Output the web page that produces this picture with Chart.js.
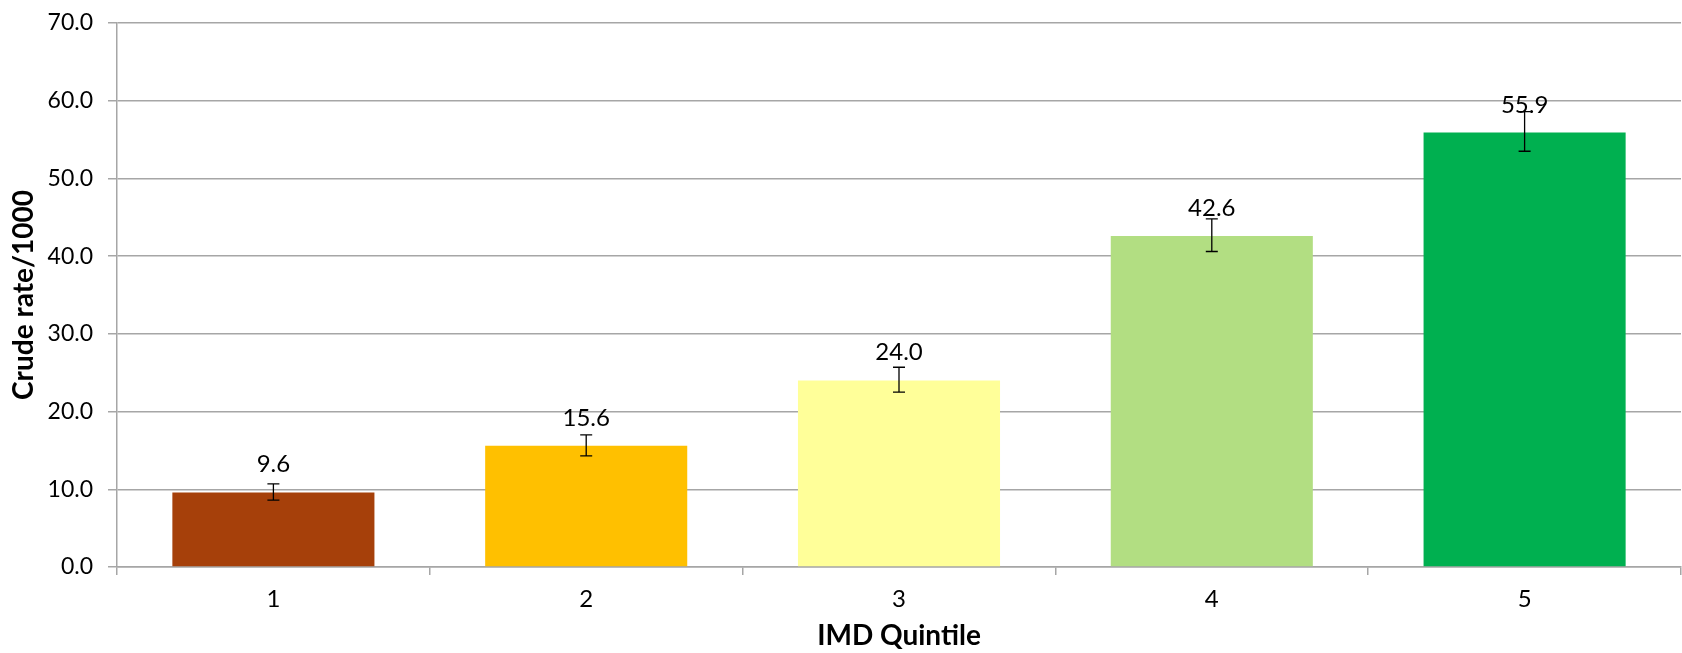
<!DOCTYPE html>
<html>
<head>
<meta charset="utf-8">
<script src="https://cdn.jsdelivr.net/npm/chart.js@4"></script>
<style>
  html, body { margin: 0; padding: 0; background: #fff; }
  #wrap { width: 1682px; height: 653px; }
</style>
</head>
<body>
<div id="wrap"><canvas id="chart" width="1682" height="653"></canvas></div>
<script>
// values
const quintiles = ['1', '2', '3', '4', '5'];
const rates = [9.6, 15.6, 24.0, 42.6, 55.9];
const ciLower = [8.6, 14.3, 22.5, 40.6, 53.5];
const ciUpper = [10.7, 17.0, 25.7, 44.8, 58.6];
const barColors = ['#A6400A', '#FFC000', '#FFFF99', '#B2DE82', '#00B050'];
const yTicks = [0, 10, 20, 30, 40, 50, 60, 70];

const FONT = 'Lato, "DejaVu Sans", sans-serif';
const GRID = '#a6a6a6';

// error bars + value labels
const errorBars = {
    id: 'errorBars',
    afterDatasetsDraw(chart) {
        const ctx = chart.ctx;
        const y = chart.scales.y;
        const meta = chart.getDatasetMeta(0);
        ctx.save();
        ctx.strokeStyle = '#000';
        ctx.lineWidth = 1.3;
        meta.data.forEach((bar, i) => {
            let top = y.getPixelForValue(ciUpper[i]);
            let bot = y.getPixelForValue(ciLower[i]);
            ctx.beginPath();
            ctx.moveTo(bar.x, top);
            ctx.lineTo(bar.x, bot);
            ctx.moveTo(bar.x - 6, top);
            ctx.lineTo(bar.x + 6, top);
            ctx.moveTo(bar.x - 6, bot);
            ctx.lineTo(bar.x + 6, bot);
            ctx.stroke();
        });
        ctx.fillStyle = '#000';
        ctx.font = '24px ' + FONT;
        ctx.textAlign = 'center';
        ctx.textBaseline = 'alphabetic';
        meta.data.forEach((bar, i) => {
            ctx.fillText(rates[i].toFixed(1), bar.x, bar.y - 20);
        });
        ctx.restore();
    }
};

new Chart(document.getElementById('chart'), {
    type: 'bar',
    data: {
        labels: quintiles,
        datasets: [{
            data: rates,
            backgroundColor: barColors,
            borderWidth: 0,
            categoryPercentage: 0.646,
            barPercentage: 1.0
        }]
    },
    options: {
        responsive: false,
        animation: false,
        events: [],
        layout: { padding: { top: 23, right: 1, left: 0, bottom: 0 } },
        plugins: {
            legend: { display: false },
            tooltip: { enabled: false }
        },
        scales: {
            x: {
                grid: {
                    offset: true,
                    drawOnChartArea: false,
                    drawTicks: true,
                    tickLength: 8,
                    color: GRID,
                    lineWidth: 1.5
                },
                border: { display: true, color: GRID, width: 1.5 },
                ticks: {
                    color: '#000',
                    padding: 10,
                    font: { family: FONT, size: 24 }
                },
                title: {
                    display: true,
                    text: 'IMD Quintile',
                    color: '#000',
                    padding: 0,
                    font: { family: FONT, size: 28, weight: 'bold' }
                },
                afterFit(scale) { scale.height = 86; }
            },
            y: {
                min: 0,
                max: 70,
                afterBuildTicks(scale) {
                    scale.ticks = yTicks.map(v => ({ value: v }));
                },
                grid: {
                    color: GRID,
                    lineWidth: 1.5,
                    tickLength: 9
                },
                border: { display: true, color: GRID, width: 1.5 },
                ticks: {
                    color: '#000',
                    padding: 15,
                    font: { family: FONT, size: 23 },
                    callback: v => Number(v).toFixed(1)
                },
                title: {
                    display: true,
                    text: 'Crude rate/1000',
                    color: '#000',
                    padding: { top: 7, bottom: 0 },
                    font: { family: FONT, size: 28, weight: 'bold' }
                },
                afterFit(scale) {
                    scale.width = 117;
                    // tick padding would otherwise push the plot top down
                    scale.paddingTop = 0;
                    scale.paddingBottom = 0;
                }
            }
        }
    },
    plugins: [errorBars]
});
</script>
</body>
</html>
